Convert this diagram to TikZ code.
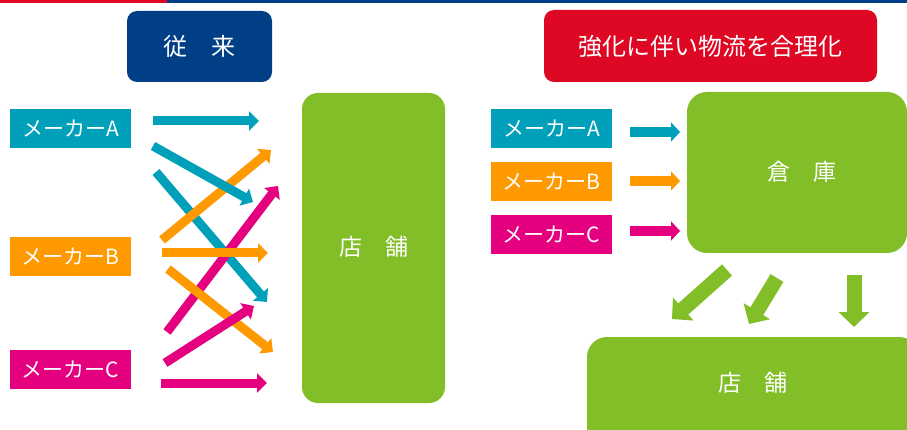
\documentclass[tikz,border=0pt]{standalone}
\usepackage{fontspec}
\setmainfont{Noto Sans CJK JP}
\usetikzlibrary{arrows.meta}
\definecolor{cnavy}{RGB}{0,62,133}
\definecolor{cred}{RGB}{222,8,36}
\definecolor{cteal}{RGB}{0,160,186}
\definecolor{corange}{RGB}{255,153,0}
\definecolor{cmag}{RGB}{228,0,127}
\definecolor{cgreen}{RGB}{130,190,40}
\begin{document}
\begin{tikzpicture}[x=1pt,y=-1pt,
  titlebox/.style={rectangle, rounded corners=10pt, fill=#1, text=white, inner sep=0pt, font=\fontsize{24}{28}\selectfont},
  maker/.style={rectangle, fill=#1, text=white, minimum width=121pt, minimum height=39pt, inner sep=0pt, font=\fontsize{21}{24}\selectfont},
  bigbox/.style={rectangle, fill=cgreen, inner sep=0pt},
  bigtext/.style={text=white, inner sep=0pt, font=\fontsize{23}{28}\selectfont},
  arrL/.style={draw=#1, line width=9pt, -{Triangle[width=19pt,length=10pt]}},
  arrR/.style={draw=#1, line width=9.5pt, -{Triangle[width=19pt,length=9pt]}},
  arrG/.style={draw=cgreen, line width=15pt, -{Triangle[width=30pt,length=15pt]}}]
\clip (0,0) rectangle (907,430);
\fill[white] (0,0) rectangle (907,430);
% top bar
\fill[cred] (0,0) rectangle (167,3.5);
\fill[cnavy] (167,0) rectangle (907,3.5);
% titles
\node[titlebox=cnavy, minimum width=145pt, minimum height=71pt] (t1) at (199.5,46.5) {従　来};
\node[titlebox=cred, minimum width=333pt, minimum height=72pt] (t2) at (710.5,46) {強化に伴い物流を合理化};
% left makers
\node[maker=cteal] (mA) at (70.5,128.5) {メーカーA};
\node[maker=corange] (mB) at (70.5,256.5) {メーカーB};
\node[maker=cmag] (mC) at (70.5,369.5) {メーカーC};
% center store
\node[bigbox, rounded corners=16pt, minimum width=143pt, minimum height=310pt] (s1) at (373.5,248) {};
\node[bigtext] (s1t) at (374,247) {店　舗};
% left arrows
\coordinate (a1s) at (153,121); \coordinate (a1e) at (259,121);
\coordinate (a2s) at (153,146); \coordinate (a2e) at (253,202);
\coordinate (a3s) at (156,172); \coordinate (a3e) at (267,302);
\coordinate (b1s) at (162,240); \coordinate (b1e) at (271,150);
\coordinate (b2s) at (162,253); \coordinate (b2e) at (268,253);
\coordinate (b3s) at (168,269); \coordinate (b3e) at (273,352);
\coordinate (c1s) at (167,332); \coordinate (c1e) at (278,186);
\coordinate (c2s) at (165,363); \coordinate (c2e) at (254,306);
\coordinate (c3s) at (161,383); \coordinate (c3e) at (267,383);
\draw[arrL=cteal] (a3s) -- (a3e);
\draw[arrL=corange] (b1s) -- (b1e);
\draw[arrL=cteal] (a2s) -- (a2e);
\draw[arrL=cmag] (c1s) -- (c1e);
\draw[arrL=corange] (b3s) -- (b3e);
\draw[arrL=corange] (b2s) -- (b2e);
\draw[arrL=cmag] (c2s) -- (c2e);
\draw[arrL=cmag] (c3s) -- (c3e);
\draw[arrL=cteal] (a1s) -- (a1e);
% right makers
\node[maker=cteal] (rA) at (551.5,128.5) {メーカーA};
\node[maker=corange] (rB) at (551.5,181.5) {メーカーB};
\node[maker=cmag] (rC) at (551.5,234.5) {メーカーC};
% warehouse
\node[bigbox, rounded corners=20pt, minimum width=220pt, minimum height=161pt] (wh) at (797,172.5) {};
\node[bigtext] (wht) at (802,172) {倉　庫};
% bottom store
\node[bigbox, rounded corners=20pt, minimum width=332pt, minimum height=110pt] (s2) at (753,392) {};
\node[bigtext] (s2t) at (753,383) {店　舗};
% right arrows
\coordinate (ras) at (630,132); \coordinate (rae) at (680,132);
\coordinate (rbs) at (630,181); \coordinate (rbe) at (680,181);
\coordinate (rcs) at (630,231); \coordinate (rce) at (680,231);
\draw[arrR=cteal] (ras) -- (rae);
\draw[arrR=corange] (rbs) -- (rbe);
\draw[arrR=cmag] (rcs) -- (rce);
% green arrows
\coordinate (g1s) at (727,270); \coordinate (g1e) at (672,319);
\coordinate (g2s) at (777,278); \coordinate (g2e) at (749,324);
\coordinate (g3s) at (854,275); \coordinate (g3e) at (854,327);
\draw[arrG] (g1s) -- (g1e);
\draw[arrG] (g2s) -- (g2e);
\draw[arrG] (g3s) -- (g3e);
\end{tikzpicture}
\end{document}
